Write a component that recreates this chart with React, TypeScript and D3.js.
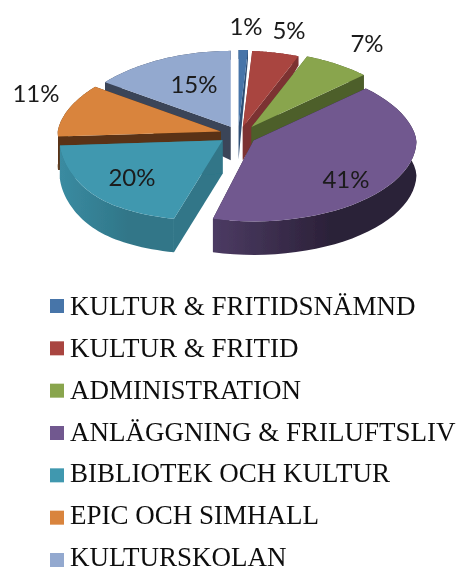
import React from 'react';
import * as d3 from 'd3';

const categories = [
  'KULTUR & FRITIDSNÄMND',
  'KULTUR & FRITID',
  'ADMINISTRATION',
  'ANLÄGGNING & FRILUFTSLIV',
  'BIBLIOTEK OCH KULTUR',
  'EPIC OCH SIMHALL',
  'KULTURSKOLAN',
];
const values = [1, 5, 7, 41, 20, 11, 15];

const topColors = ['#4674a9', '#a9443f', '#89a54e', '#71588f', '#4198af', '#d9843c', '#93a9cf'];
const wallLight = ['#2f4f75', '#7c3230', '#505f2c', '#4c3b63', '#3a8ba1', '#5a3314', '#3a4459'];
const wallDark = ['#2f4f75', '#7c3230', '#4d5f2b', '#2a2037', '#307688', '#5a3314', '#3a4459'];
// how far each slice is pulled out of the pie, and how much of that shows vertically
const explode = [18, 22, 24, 18, 20, 18, 16];
const explodeTilt = [0.45, 0.33, 0.35, 0.7, 0.5, 0.5, 0.5];
// the teal slice fans out more towards the viewer
const frontFlare = [0, 0, 0, 0, 0.22, 0, 0];
// back-to-front painting order
const drawOrder = [6, 0, 1, 2, 5, 4, 3];

const labelX = [246, 289, 367, 346, 132, 36, 194];
const labelY = [25, 29, 42, 178, 176, 92, 83];

const width = 462;
const height = 572;
const cx = 238;
const cy = 134;
const rx = 163;
const ryBack = 76;
const ryFront = 81;
const backNarrow = 0.08;

// side walls look thinner towards the back of the pie
const depth = d3.scaleLinear().domain([55, 125]).range([9, 32]).clamp(true);

const legendY = d3.scalePoint<string>().domain(categories).range([306, 560]);
const legendTextY = d3.scalePoint<string>().domain(categories).range([315, 566]);

const slices = d3.pie<number>().sort(null).value(d => d)(values);

const project = (a: number, flare: number, ox: number, oy: number): [number, number] => {
  const c = Math.cos(a);
  const ry = c > 0 ? ryBack : ryFront;
  const sx = c > 0 ? 1 - backNarrow * c : 1 + flare * Math.pow(-c, 3);
  return [ox + rx * sx * Math.sin(a), oy - ry * c];
};
const drop = (p: [number, number]): [number, number] => [p[0], p[1] + depth(p[1]) + (p[1] > 125 ? 1.5 : 0)];
const line = d3.line();

const App = () => (
  <svg
    width={width}
    height={height}
    viewBox={`0 0 ${width} ${height}`}
    style={{ position: 'absolute', left: 0, top: 0, background: '#fff' }}
  >
    <defs>
      <filter id="soft" x="-5%" y="-5%" width="110%" height="110%">
        <feGaussianBlur stdDeviation="0.5" />
      </filter>
      {slices.map((s, i) => (
        <linearGradient key={i} id={`wall${i}`} x1="0" x2="1" y1="0" y2="0">
          <stop offset="0" stopColor={wallLight[i]} />
          <stop offset="0.6" stopColor={wallDark[i]} />
          <stop offset="1" stopColor={wallDark[i]} />
        </linearGradient>
      ))}
    </defs>
    <g filter="url(#soft)">
      {drawOrder.map(i => {
        const s = slices[i];
        const mid = (s.startAngle + s.endAngle) / 2;
        const ox = cx + explode[i] * Math.sin(mid);
        const oy = cy - explode[i] * explodeTilt[i] * Math.cos(mid);
        const steps = d3.range(0, 41).map(t => s.startAngle + ((s.endAngle - s.startAngle) * t) / 40);
        const rim = steps.map(a => project(a, frontFlare[i], ox, oy));
        const apex: [number, number] = [ox, oy];
        const first = rim[0];
        const last = rim[rim.length - 1];
        const outer = [...rim, ...rim.map(drop).reverse()];
        return (
          <g key={i}>
            <path d={line([apex, first, drop(first), drop(apex)]) + 'Z'} fill={wallDark[i]} />
            <path d={line([apex, last, drop(last), drop(apex)]) + 'Z'} fill={wallDark[i]} />
            <path d={line(outer) + 'Z'} fill={`url(#wall${i})`} />
            <path d={line([apex, ...rim]) + 'Z'} fill={topColors[i]} />
          </g>
        );
      })}
      {values.map((v, i) => (
        <text
          key={i}
          x={labelX[i]}
          y={labelY[i]}
          textAnchor="middle"
          dominantBaseline="central"
          fontFamily="Lato, 'Open Sans', sans-serif"
          fontSize={24}
          fill="#1a1a1a"
        >
          {v}%
        </text>
      ))}
      {categories.map((c, i) => (
        <g key={c}>
          <rect x={50} y={legendY(c)! - 7} width={14} height={14} fill={topColors[i]} />
          <text
            x={70}
            y={legendTextY(c)!}
            fontFamily="'Liberation Serif', serif"
            fontSize={27}
            fill="#111"
          >
            {c}
          </text>
        </g>
      ))}
    </g>
  </svg>
);

export default App;
